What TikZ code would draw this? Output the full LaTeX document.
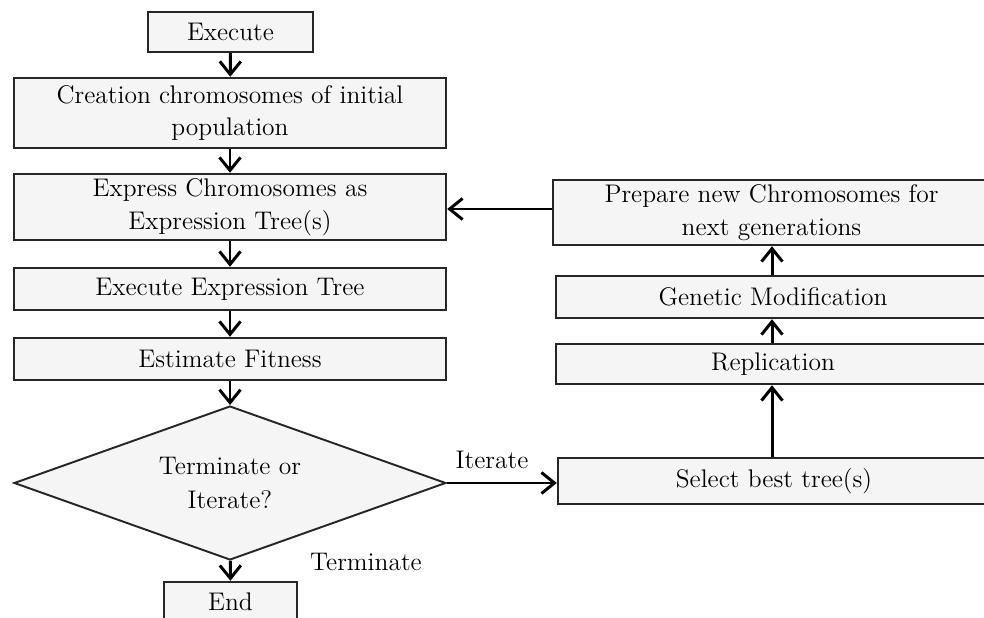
\documentclass[tikz,border=0pt]{standalone}
\usepackage{tikz}
\usetikzlibrary{shapes.geometric}
\usetikzlibrary{arrows.meta}

\begin{document}
\begin{tikzpicture}[x=0.02cm, y=-0.02cm,
	stepbox/.style={rectangle, draw=black!85, line width=1.4pt, fill=black!4, align=center, inner sep=0pt, font=\fontsize{14.5}{18.5}\selectfont},
	decision/.style={diamond, aspect=2.8, draw=black!85, line width=1.1pt, fill=black!4, align=center, inner sep=0pt, minimum width=8.64cm, minimum height=3.08cm, font=\fontsize{14.5}{19}\selectfont},
	flow/.style={draw=black, line width=1.7pt, -{Straight Barb[length=2.6mm, width=4.2mm, line width=1.7pt]}},
	tag/.style={font=\fontsize{14.5}{17}\selectfont}]

	\useasboundingbox (0,0) rectangle (984,618);

	% vertices
	\node[stepbox, minimum width=3.3cm, minimum height=0.8cm] (exec) at (230.5,32) {Execute};
	\node[stepbox, minimum width=8.64cm, minimum height=1.4cm] (create) at (230,113) {Creation chromosomes of initial\\population};
	\node[stepbox, minimum width=8.64cm, minimum height=1.32cm] (express) at (230,207) {Express Chromosomes as\\Expression Tree(s)};
	\node[stepbox, minimum width=8.64cm, minimum height=0.84cm] (tree) at (230,289) {Execute Expression Tree};
	\node[stepbox, minimum width=8.64cm, minimum height=0.84cm] (fit) at (230,359) {Estimate Fitness};
	\node[decision] (decide) at (230,483) {Terminate or\\Iterate?};
	\node[stepbox, minimum width=2.66cm, minimum height=0.8cm] (end) at (230.5,602) {End};

	\node[stepbox, minimum width=8.74cm, minimum height=1.3cm] (prep) at (771.5,212.5) {Prepare new Chromosomes for\\next generations};
	\node[stepbox, minimum width=8.68cm, minimum height=0.84cm] (mod) at (773,297) {Genetic Modification};
	\node[stepbox, minimum width=8.68cm, minimum height=0.8cm] (rep) at (773,364) {Replication};
	\node[stepbox, minimum width=8.64cm, minimum height=0.92cm] (sel) at (774,481) {Select best tree(s)};

	\node[tag] (iter) at (492,460) {Iterate};
	\node[tag] (term) at (366,562) {Terminate};

	% arrows
	\draw[flow] (exec) -- (create);
	\draw[flow] (create) -- (express);
	\draw[flow] (express) -- (tree);
	\draw[flow] (tree) -- (fit);
	\draw[flow] (fit) -- (decide);
	\draw[flow] (decide) -- (end);
	\draw[flow] (decide.east) -- (sel.west |- decide.east);
	\draw[flow] (sel.north -| 772,0) -- (rep.south -| 772,0);
	\draw[flow] (rep.north -| 772,0) -- (mod.south -| 772,0);
	\draw[flow] (mod.north -| 772,0) -- (prep.south -| 772,0);
	\draw[flow] (prep.west |- 0,209) -- (express.east |- 0,209);
\end{tikzpicture}
\end{document}
